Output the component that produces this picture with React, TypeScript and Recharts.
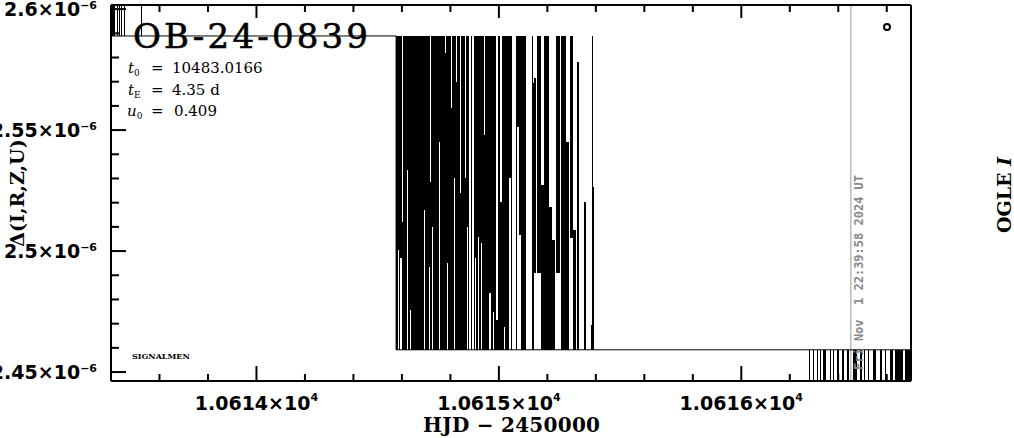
import React from 'react';
import { ComposedChart, Area, Line, Scatter, XAxis, YAxis, ReferenceLine } from 'recharts';

// flux levels, units of 1e-6
const HI = 2.5889;
const LO = 2.4592;
const OVER = 2.61;
const UNDER = 2.44;

// model curve skeleton
const modelTimes = [10613.39, 10614.576, 10616.71];
const modelFlux = [HI, LO, LO];

// early spikes above the upper level
const leftTimes = [10613.39, 10613.417, 10613.425, 10613.429, 10613.433, 10613.437, 10613.441, 10613.445, 10613.454, 10613.458, 10613.524, 10613.528];
const leftUpper = [OVER, HI, OVER, HI, OVER, HI, OVER, HI, OVER, HI, OVER, HI];

// dense block, lower/upper bound per sample
const coreTimes = [
  10614.576, 10614.584, 10614.588, 10614.593, 10614.601, 10614.605, 10614.621, 10614.626, 10614.634, 10614.638,
  10614.692, 10614.696, 10614.712, 10614.716, 10614.72, 10614.725, 10614.729, 10614.753, 10614.758, 10614.778,
  10614.782, 10614.786, 10614.791, 10614.803, 10614.807, 10614.815, 10614.819, 10614.824, 10614.828, 10614.84,
  10614.844, 10614.861, 10614.865, 10614.869, 10614.873, 10614.877, 10614.885, 10614.89, 10614.898, 10614.902,
  10614.906, 10614.914, 10614.918, 10614.927, 10614.931, 10614.939, 10614.943, 10614.96, 10614.968, 10614.976,
  10614.98, 10614.989, 10614.997, 10615.005, 10615.013, 10615.022, 10615.026, 10615.042, 10615.05, 10615.055,
  10615.071, 10615.075, 10615.084, 10615.092, 10615.112, 10615.137, 10615.141, 10615.146, 10615.154, 10615.158,
  10615.175, 10615.187, 10615.207, 10615.22, 10615.232, 10615.236, 10615.253, 10615.257, 10615.277, 10615.29,
  10615.294, 10615.306, 10615.319, 10615.323, 10615.331, 10615.352, 10615.36, 10615.381, 10615.385, 10615.389,
  10615.393,
];
const coreLower = [
  LO, 2.5005, LO, 2.4972, LO, LO, 2.5336, LO, 2.4757, LO,
  2.517, LO, 2.4935, LO, LO, 2.51, LO, 2.5451, LO, LO,
  LO, 2.4951, LO, LO, LO, 2.5302, LO, LO, LO, LO,
  LO, LO, LO, 2.51, LO, LO, LO, LO, LO, 2.4972,
  LO, 2.5059, LO, 2.5034, LO, LO, LO, 2.4828, LO, 2.4749,
  LO, LO, LO, LO, LO, 2.4687, LO, 2.5302, LO, LO,
  LO, 2.5513, 2.5067, LO, LO, LO, LO, 2.491, LO, 2.491,
  LO, LO, LO, LO, LO, 2.491, LO, LO, LO, LO,
  2.5055, LO, LO, LO, LO, LO, LO, LO, LO, LO,
  LO,
];
const coreUpper = [
  HI, HI, HI, HI, 2.5121, HI, HI, HI, HI, HI,
  HI, HI, HI, 2.5286, HI, HI, HI, HI, HI, 2.5819,
  HI, HI, HI, 2.5592, HI, HI, HI, 2.5699, HI, 2.5241,
  HI, 2.5302, HI, HI, HI, LO, HI, LO, HI, HI,
  HI, HI, HI, HI, HI, 2.548, HI, HI, HI, HI,
  HI, 2.4716, HI, 2.5203, HI, HI, HI, HI, HI, LO,
  HI, HI, HI, HI, LO, HI, 2.5695, 2.5715, LO, HI,
  2.5274, HI, 2.5183, 2.5046, LO, HI, LO, HI, 2.5451, LO,
  HI, 2.5088, LO, 2.5782, LO, 2.5203, LO, 2.4695, HI, 2.5265,
  LO,
];

// late spikes below the lower level
const tailTimes = [
  10616.279, 10616.283, 10616.296, 10616.3, 10616.312, 10616.316, 10616.325, 10616.329, 10616.337, 10616.349,
  10616.366, 10616.37, 10616.378, 10616.382, 10616.395, 10616.403, 10616.415, 10616.424, 10616.436, 10616.444,
  10616.461, 10616.477, 10616.49, 10616.498, 10616.506, 10616.51, 10616.523, 10616.527, 10616.543, 10616.555,
  10616.572, 10616.58, 10616.593, 10616.597, 10616.613, 10616.626, 10616.634, 10616.667, 10616.675, 10616.71,
];
const tailLower = [
  UNDER, LO, UNDER, LO, UNDER, LO, UNDER, LO, UNDER, LO,
  UNDER, LO, UNDER, LO, UNDER, LO, UNDER, LO, UNDER, LO,
  UNDER, LO, UNDER, LO, UNDER, LO, UNDER, LO, UNDER, LO,
  UNDER, LO, UNDER, LO, UNDER, LO, UNDER, LO, UNDER, UNDER,
];

const markerTimes = [10616.601];
const markerFlux = [2.5926];

const nowHjd = 10616.452;

const xDomain = [10613.4, 10616.7];
const yDomain = [2.4463, 2.6017];
const xTicks = [10613.6, 10613.8, 10614, 10614.2, 10614.4, 10614.6, 10614.8, 10615, 10615.2, 10615.4, 10615.6, 10615.8, 10616, 10616.2, 10616.4, 10616.6];
const xMajor = [10614, 10615, 10616];
const yTicks = [2.45, 2.46, 2.47, 2.48, 2.49, 2.5, 2.51, 2.52, 2.53, 2.54, 2.55, 2.56, 2.57, 2.58, 2.59, 2.6];
const yMajor = [2.45, 2.5, 2.55, 2.6];

const rows = [
  ...leftTimes.map((t, i) => ({ t, range: [HI, leftUpper[i]] })),
  ...coreTimes.map((t, i) => ({ t, range: [coreLower[i], coreUpper[i]] })),
  ...tailTimes.map((t, i) => ({ t, range: [tailLower[i], LO] })),
];
const modelRows = modelTimes.map((t, i) => ({ t, f: modelFlux[i] }));
const markerRows = markerTimes.map((t, i) => ({ t, v: markerFlux[i] }));

const isMajor = (v: number, list: number[]) => list.some((m) => Math.abs(m - v) < 1e-6);

const tickFont = { fontFamily: '"DejaVu Sans", sans-serif', fontWeight: 700 };
const serif = '"DejaVu Serif", serif';

const BottomTick = ({ x, y, payload }: any) => {
  const major = isMajor(payload.value, xMajor);
  return (
    <g>
      <line x1={x} y1={y} x2={x} y2={y - (major ? 15 : 7)} stroke="#000" strokeWidth={2} />
      {major && (
        <text x={x} y={y + 29} textAnchor="middle" fontSize={19} style={tickFont}>
          {(payload.value / 1e4).toFixed(4)}×10
          <tspan dy={-9} fontSize={11}>4</tspan>
        </text>
      )}
    </g>
  );
};

const TopTick = ({ x, y, payload }: any) => {
  const major = isMajor(payload.value, xMajor);
  return <line x1={x} y1={y} x2={x} y2={y + (major ? 13 : 7)} stroke="#000" strokeWidth={2} />;
};

const LeftTick = ({ x, y, payload }: any) => {
  const major = isMajor(payload.value, yMajor);
  return (
    <g>
      <line x1={x} y1={y} x2={x + (major ? 15 : 8)} y2={y} stroke="#000" strokeWidth={2} />
      {major && (
        <text x={x - 14} y={y + 7} textAnchor="end" fontSize={19} style={tickFont}>
          {String(payload.value)}×10
          <tspan dy={-7} fontSize={11}>−6</tspan>
        </text>
      )}
    </g>
  );
};

const axisLine = { stroke: '#000', strokeWidth: 2 };

export default function App() {
  return (
    <div style={{ position: 'absolute', left: 0, top: 0, width: 1014, height: 438, background: '#fff' }}>
      <ComposedChart width={1014} height={438} margin={{ top: 0, right: 0, bottom: 0, left: 0 }}>
        <XAxis
          xAxisId="b"
          type="number"
          dataKey="t"
          domain={xDomain}
          allowDataOverflow
          ticks={xTicks}
          interval={0}
          tickSize={0}
          tickMargin={0}
          tickLine={false}
          tick={(p: any) => <BottomTick {...p} />}
          axisLine={axisLine}
          height={57}
        />
        <XAxis
          xAxisId="top"
          orientation="top"
          type="number"
          dataKey="t"
          domain={xDomain}
          allowDataOverflow
          ticks={xTicks}
          interval={0}
          tickSize={0}
          tickMargin={0}
          tickLine={false}
          tick={(p: any) => <TopTick {...p} />}
          axisLine={axisLine}
          height={5}
        />
        <YAxis
          yAxisId="l"
          type="number"
          domain={yDomain}
          allowDataOverflow
          ticks={yTicks}
          interval={0}
          tickSize={0}
          tickMargin={0}
          tickLine={false}
          tick={(p: any) => <LeftTick {...p} />}
          axisLine={axisLine}
          width={111}
        />
        <YAxis
          yAxisId="r"
          orientation="right"
          type="number"
          domain={yDomain}
          allowDataOverflow
          tick={false}
          tickLine={false}
          axisLine={axisLine}
          width={103}
        />
        <ReferenceLine xAxisId="b" yAxisId="l" x={nowHjd} stroke="#999" strokeWidth={1} />
        <Area
          xAxisId="b"
          yAxisId="l"
          data={rows}
          dataKey="range"
          type="stepAfter"
          stroke="none"
          fill="#000"
          fillOpacity={1}
          dot={false}
          activeDot={false}
          shapeRendering="crispEdges"
          isAnimationActive={false}
        />
        <Line
          xAxisId="b"
          yAxisId="l"
          data={modelRows}
          dataKey="f"
          type="stepAfter"
          stroke="#000"
          strokeWidth={1}
          dot={false}
          activeDot={false}
          isAnimationActive={false}
        />
        <Scatter
          xAxisId="b"
          yAxisId="l"
          data={markerRows}
          dataKey="v"
          isAnimationActive={false}
          shape={(p: any) => <circle cx={p.cx} cy={p.cy} r={3} fill="none" stroke="#000" strokeWidth={2} />}
        />
      </ComposedChart>

      <svg width={1014} height={438} style={{ position: 'absolute', left: 0, top: 0, pointerEvents: 'none' }}>
        <text x={133} y={48} fontFamily={serif} fontSize={34} stroke="#000" strokeWidth={0.6} textLength={235} lengthAdjust="spacing">
          OB-24-0839
        </text>
        <text x={128} y={73} fontFamily={serif} fontSize={15}>
          <tspan fontStyle="italic">t</tspan>
          <tspan dy={3} fontSize={9}>0</tspan>
          <tspan x={151} dy={-3}>=</tspan>
          <tspan x={172}>10483.0166</tspan>
        </text>
        <text x={128} y={95} fontFamily={serif} fontSize={15}>
          <tspan fontStyle="italic">t</tspan>
          <tspan dy={3} fontSize={9}>E</tspan>
          <tspan x={151} dy={-3}>=</tspan>
          <tspan x={172}>4.35 d</tspan>
        </text>
        <text x={127} y={116} fontFamily={serif} fontSize={15}>
          <tspan fontStyle="italic">u</tspan>
          <tspan dy={3} fontSize={9}>0</tspan>
          <tspan x={151} dy={-3}>=</tspan>
          <tspan x={174}>0.409</tspan>
        </text>
        <text x={132} y={359} fontFamily={serif} fontSize={8} fontWeight={700}>SIGNALMEN</text>
        <text
          transform="translate(863,370) rotate(-90)"
          fontFamily='"DejaVu Sans Mono", monospace'
          fontWeight={700}
          fontSize={12}
          fill="#888"
          style={{ whiteSpace: 'pre' }}
        >
          Fri Nov  1 22:39:58 2024 UT
        </text>
        <text transform="translate(1011,195) rotate(-90)" textAnchor="middle" fontFamily={serif} fontWeight={700} fontSize={19}>
          OGLE <tspan fontStyle="italic">I</tspan>
        </text>
        <text transform="translate(24,193) rotate(-90)" textAnchor="middle" fontFamily={serif} fontWeight={700} fontSize={19}>
          Δ(I,R,Z,U)
        </text>
        <text x={423} y={432} fontFamily={serif} fontWeight={700} fontSize={20} textLength={177} lengthAdjust="spacing">
          HJD − 2450000
        </text>
      </svg>
    </div>
  );
}
